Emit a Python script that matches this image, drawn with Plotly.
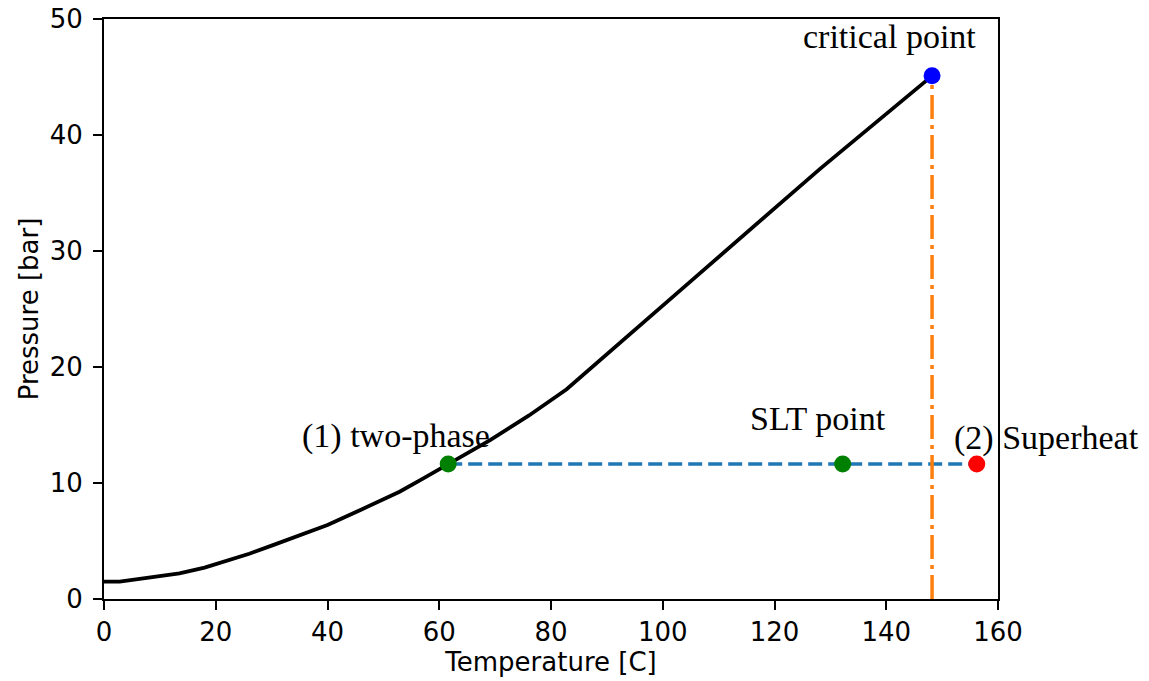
import plotly.graph_objects as go

# saturation curve (Temperature [C], Pressure [bar])
sat_T = [0, 2.8, 8, 13.5, 18, 22, 26, 30, 35, 40, 46, 52.9, 57, 61.6, 65, 69.1, 76, 82.8, 105.5, 128.2, 148.2]
sat_P = [1.49, 1.5, 1.85, 2.21, 2.7, 3.28, 3.9, 4.6, 5.45, 6.38, 7.7, 9.25, 10.35, 11.64, 12.6, 13.7, 15.8, 18.08, 27.6, 37.1, 45.1]

crit_T, crit_P = 148.2, 45.1
two_phase_T, slt_T, superheat_T = 61.6, 132.2, 156.2
iso_P = 11.64

x_ticks = [0, 20, 40, 60, 80, 100, 120, 140, 160]
y_ticks = [0, 10, 20, 30, 40, 50]

fig = go.Figure()
fig.add_trace(go.Scatter(x=sat_T, y=sat_P, mode="lines",
                         line=dict(color="black", width=3.8), showlegend=False))
fig.add_trace(go.Scatter(x=[two_phase_T, superheat_T], y=[iso_P, iso_P], mode="lines",
                         line=dict(color="#1f77b4", width=3.5, dash="14px,6px"), showlegend=False))
fig.add_trace(go.Scatter(x=[crit_T, crit_T], y=[0, crit_P], mode="lines",
                         line=dict(color="#ff7f0e", width=3.5, dash="24px,6px,4px,6px"), showlegend=False))
fig.add_trace(go.Scatter(x=[two_phase_T, slt_T], y=[iso_P, iso_P], mode="markers",
                         marker=dict(color="#008000", size=17), showlegend=False))
fig.add_trace(go.Scatter(x=[superheat_T], y=[iso_P], mode="markers",
                         marker=dict(color="#ff0000", size=17), showlegend=False, cliponaxis=False))
fig.add_trace(go.Scatter(x=[crit_T], y=[crit_P], mode="markers",
                         marker=dict(color="#0000ff", size=17), showlegend=False))

serif = dict(family="Liberation Serif", size=34, color="black")
for txt, x, y in [("critical point", 140.5, 48.5), ("(1) two-phase", 52.3, 14.05),
                  ("SLT point", 127.8, 15.6)]:
    fig.add_annotation(x=x, y=y, text=txt, showarrow=False, font=serif,
                       xanchor="center", yanchor="middle")
# label beyond the x range: placed in paper coordinates
fig.add_annotation(x=168.7 / 160, y=13.9 / 50, xref="paper", yref="paper",
                   text="(2) Superheat", showarrow=False, font=serif,
                   xanchor="center", yanchor="middle")

axis_font = dict(family="DejaVu Sans", size=26, color="black")
fig.update_layout(
    width=1149, height=681,
    margin=dict(l=104, r=151, t=19, b=82),
    plot_bgcolor="white", paper_bgcolor="white",
    font=axis_font,
    xaxis=dict(range=[0, 160], tickvals=x_ticks, showgrid=False, zeroline=False,
               showline=True, linecolor="black", linewidth=2, mirror=True,
               ticks="outside", ticklen=9, tickwidth=2, tickcolor="black",
               tickfont=axis_font, automargin=False,
               title=dict(text="Temperature [C]", font=axis_font, standoff=6)),
    yaxis=dict(range=[0, 50], tickvals=y_ticks, showgrid=False, zeroline=False,
               showline=True, linecolor="black", linewidth=2, mirror=True,
               ticks="outside", ticklen=9, tickwidth=2, tickcolor="black",
               tickfont=axis_font, automargin=False, ticklabelstandoff=5,
               title=dict(text="Pressure [bar]", font=axis_font, standoff=4)),
)

fig.write_html("out.html")
